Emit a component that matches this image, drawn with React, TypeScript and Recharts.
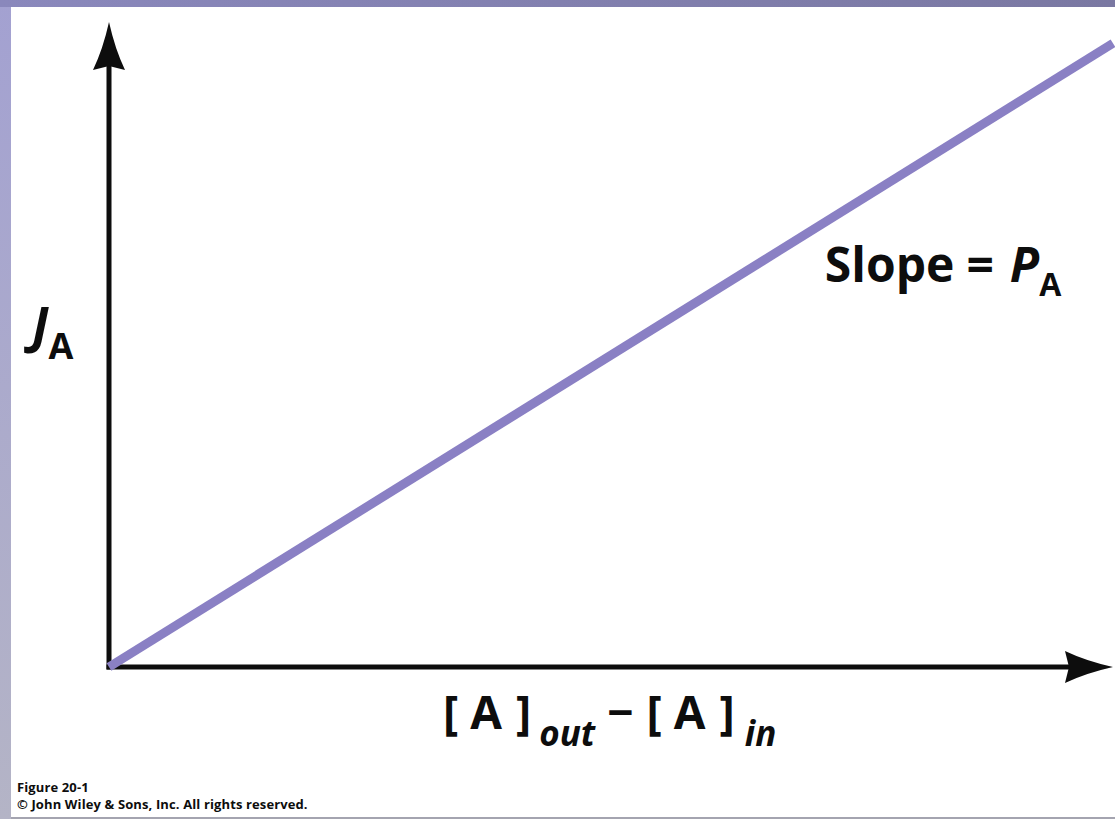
import { Line, LineChart, ReferenceDot, ReferenceLine, XAxis, YAxis } from "recharts";

// [A]out - [A]in (driving force) and J_A (flux) at the two ends of the line
const drivingForce = [0, 10];
const flux = [0, 9.67];
const X_MAX = 10;
const Y_MAX = 10;

// where the "Slope = P_A" note sits, in data units
const slopeNoteAt = { x: 7.13, y: 5.97 };

const data = drivingForce.map((x, i) => ({ x, flux: flux[i] }));

const FONT = "'Open Sans', 'Noto Sans', sans-serif";
const INK = "#0d0d0d";

function UpArrow(props: any) {
  const { cx, cy } = props;
  return (
    <path
      d={`M${cx},${cy} Q${cx + 6},${cy + 27} ${cx + 16},${cy + 48} L${cx},${cy + 44} L${cx - 16},${cy + 48} Q${cx - 6},${cy + 27} ${cx},${cy} Z`}
      fill={INK}
    />
  );
}

function RightArrow(props: any) {
  const { cx, cy } = props;
  return (
    <path
      d={`M${cx},${cy} Q${cx - 27},${cy + 6} ${cx - 48},${cy + 16} L${cx - 44},${cy} L${cx - 48},${cy - 16} Q${cx - 27},${cy - 6} ${cx},${cy} Z`}
      fill={INK}
    />
  );
}

function SlopeNote(props: any) {
  const { cx, cy } = props;
  return (
    <text x={cx} y={cy} fontFamily={FONT} fontWeight={700} fontSize={48} fill={INK}>
      Slope
      <tspan dx={12}>=</tspan>
      <tspan dx={16} fontStyle="italic">P</tspan>
      <tspan fontSize={32} dy={14}>A</tspan>
    </text>
  );
}

function YTitle(props: any) {
  const vb = props.viewBox;
  return (
    <text x={vb.x - 76} y={vb.y + vb.height / 2 - 2} fontFamily={FONT} fontWeight={700} fill={INK}>
      <tspan fontSize={50} fontStyle="italic">J</tspan>
      <tspan fontSize={36} dy={16}>A</tspan>
    </text>
  );
}

function XTitle(props: any) {
  const vb = props.viewBox;
  return (
    <text
      x={vb.x + vb.width / 2 - 168}
      y={vb.y + 62}
      fontFamily={FONT}
      fontWeight={700}
      fontSize={46}
      fill={INK}
    >
      <tspan>[</tspan>
      <tspan dx={12}>A</tspan>
      <tspan dx={14}>]</tspan>
      <tspan dx={8} dy={17} fontSize={35} fontStyle="italic">out</tspan>
      <tspan dx={12} dy={-17}>{"\u2212"}</tspan>
      <tspan dx={13}>[</tspan>
      <tspan dx={12}>A</tspan>
      <tspan dx={14}>]</tspan>
      <tspan dx={10} dy={17} fontSize={35} fontStyle="italic">in</tspan>
    </text>
  );
}

export default function App() {
  return (
    <div
      style={{
        position: "absolute",
        top: 0,
        left: 0,
        width: 1115,
        height: 819,
        overflow: "hidden",
        background: "linear-gradient(to bottom, #a3a1d1, #b4b4c6)",
        fontFamily: FONT,
      }}
    >
      <div
        style={{
          position: "absolute",
          top: 0,
          left: 0,
          width: 1115,
          height: 7,
          background: "linear-gradient(to right, #8a88bc, #7a78a2)",
        }}
      />
      <div
        style={{
          position: "absolute",
          top: 7,
          left: 11,
          width: 1104,
          height: 810,
          background: "#ffffff",
          borderBottom: "2px solid #a4a4b0",
        }}
      />
      <div style={{ position: "absolute", top: 0, left: 0 }}>
        <LineChart width={1115} height={819} data={data} margin={{ top: 22, right: 2, bottom: 151, left: 108 }}>
          <XAxis
            type="number"
            dataKey="x"
            domain={[0, X_MAX]}
            height={1}
            tick={false}
            tickLine={false}
            axisLine={false}
            label={{ content: XTitle }}
          />
          <YAxis
            type="number"
            domain={[0, Y_MAX]}
            width={1}
            tick={false}
            tickLine={false}
            axisLine={false}
            label={{ content: YTitle }}
          />
          {/* axis shafts stop inside the arrowheads so they do not poke past the tips */}
          <ReferenceLine
            segment={[{ x: 0, y: 0 }, { x: 0, y: Y_MAX * 0.97 }]}
            stroke={INK}
            strokeWidth={5}
            strokeLinecap="square"
            ifOverflow="visible"
          />
          <ReferenceLine
            segment={[{ x: 0, y: 0 }, { x: X_MAX * 0.98, y: 0 }]}
            stroke={INK}
            strokeWidth={5}
            strokeLinecap="square"
            ifOverflow="visible"
          />
          <Line
            type="linear"
            dataKey="flux"
            stroke="#8a80c4"
            strokeWidth={9}
            dot={false}
            activeDot={false}
            isAnimationActive={false}
          />
          <ReferenceDot x={0} y={Y_MAX} r={0} shape={UpArrow} ifOverflow="visible" />
          <ReferenceDot x={X_MAX} y={0} r={0} shape={RightArrow} ifOverflow="visible" />
          <ReferenceDot x={slopeNoteAt.x} y={slopeNoteAt.y} r={0} shape={SlopeNote} ifOverflow="visible" />
        </LineChart>
      </div>
      <div
        style={{
          position: "absolute",
          left: 17,
          top: 779,
          fontSize: 13,
          fontWeight: 700,
          lineHeight: "17px",
          letterSpacing: 0.12,
          color: INK,
          whiteSpace: "nowrap",
        }}
      >
        <div>Figure 20-1</div>
        <div>© John Wiley &amp; Sons, Inc. All rights reserved.</div>
      </div>
    </div>
  );
}
